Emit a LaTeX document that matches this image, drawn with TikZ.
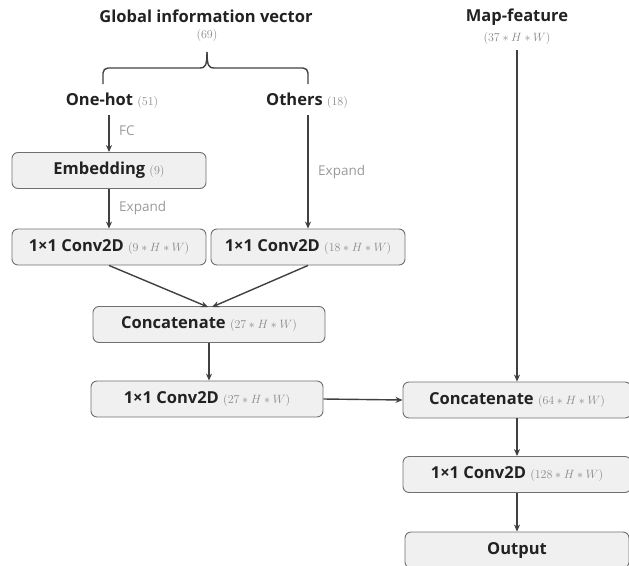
\documentclass[tikz,border=0pt]{standalone}
\usepackage{fontspec}
\setmainfont{Open Sans}
\usetikzlibrary{arrows.meta}
\definecolor{boxfill}{HTML}{F0F0F0}
\definecolor{boxline}{HTML}{707070}
\definecolor{arr}{HTML}{404040}
\definecolor{txt}{HTML}{222222}
\definecolor{num}{HTML}{8A8A8A}
\definecolor{lab}{HTML}{9A9A9A}
\newcommand{\nm}[1]{{\color{num}\fontsize{12.5}{14}\selectfont$#1$}}
\begin{document}
\begin{tikzpicture}[x=1pt,y=-1pt,
  blk/.style={draw=boxline,fill=boxfill,line width=0.9pt,rounded corners=6pt,
    minimum height=36pt,inner sep=0pt,text=txt,font=\fontsize{16.5}{18}\selectfont\bfseries},
  ttl/.style={text=txt,font=\fontsize{16.5}{18}\selectfont\bfseries,inner sep=1pt,align=center},
  conn/.style={draw=arr,line width=1.4pt,-{Stealth[length=7pt,width=6pt]}},
  lbl/.style={text=lab,font=\fontsize{13.5}{15}\selectfont,inner sep=0pt,anchor=west}]
\useasboundingbox (0,0) rectangle (629,565);
\clip (0,0) rectangle (629,565);
% titles
\node[ttl] (glob) at (206,16) {Global information vector};
\node[inner sep=0pt] (g69) at (207,35) {\nm{(69)}};
\node[ttl] (map) at (517,17) {Map-feature};
\node[inner sep=0pt] (m37) at (517,38) {\nm{(37 * H * W)}};
\node[ttl] (onehot) at (112,101) {One-hot \nm{(51)}};
\node[ttl] (others) at (307,101) {Others \nm{(18)}};
% brace
\draw[draw=arr,line width=1.4pt,rounded corners=5pt] (103,84) -- (103,68) -- (200,68);
\draw[draw=arr,line width=1.4pt] (200,68) .. controls (205,68) and (207,66) .. (207,52);
\draw[draw=arr,line width=1.4pt,rounded corners=5pt] (308,84) -- (308,68) -- (214,68);
\draw[draw=arr,line width=1.4pt] (214,68) .. controls (209,68) and (207,66) .. (207,52);
% boxes
\node[blk,minimum width=194pt] (emb) at (109,170.5) {Embedding \nm{(9)}};
\node[blk,minimum width=194pt] (c1) at (109,247) {1×1 Conv2D \nm{(9 * H * W)}};
\node[blk,minimum width=194pt] (c2) at (308,247) {1×1 Conv2D \nm{(18 * H * W)}};
\node[blk,minimum width=232pt] (cat1) at (209,324.5) {Concatenate \nm{(27 * H * W)}};
\node[blk,minimum width=232pt] (c3) at (207,399) {1×1 Conv2D \nm{(27 * H * W)}};
\node[blk,minimum width=228pt] (cat2) at (517,400) {Concatenate \nm{(64 * H * W)}};
\node[blk,minimum width=228pt] (c4) at (517,474.5) {1×1 Conv2D \nm{(128 * H * W)}};
\node[blk,minimum width=224pt] (out) at (517,550) {Output};
% connectors
\draw[conn] (109,115) -- (emb.north -| 109,0);
\node[lbl] (fc) at (119,131) {FC};
\draw[conn] (emb.south) -- (c1.north);
\node[lbl] (ex1) at (119,208) {Expand};
\draw[conn] (308,115) -- (c2.north);
\node[lbl] (ex2) at (318,172) {Expand};
\draw[conn] (c1.south) -- (208,307);
\draw[conn] (c2.south) -- (212,307);
\draw[conn] (209,342.5) -- (c3.north -| 209,0);
\draw[conn] (c3.east) -- (cat2.west);
\draw[conn] (517,50) -- (cat2.north);
\draw[conn] (cat2.south) -- (c4.north);
\draw[conn] (c4.south) -- (out.north);
\end{tikzpicture}
\end{document}
